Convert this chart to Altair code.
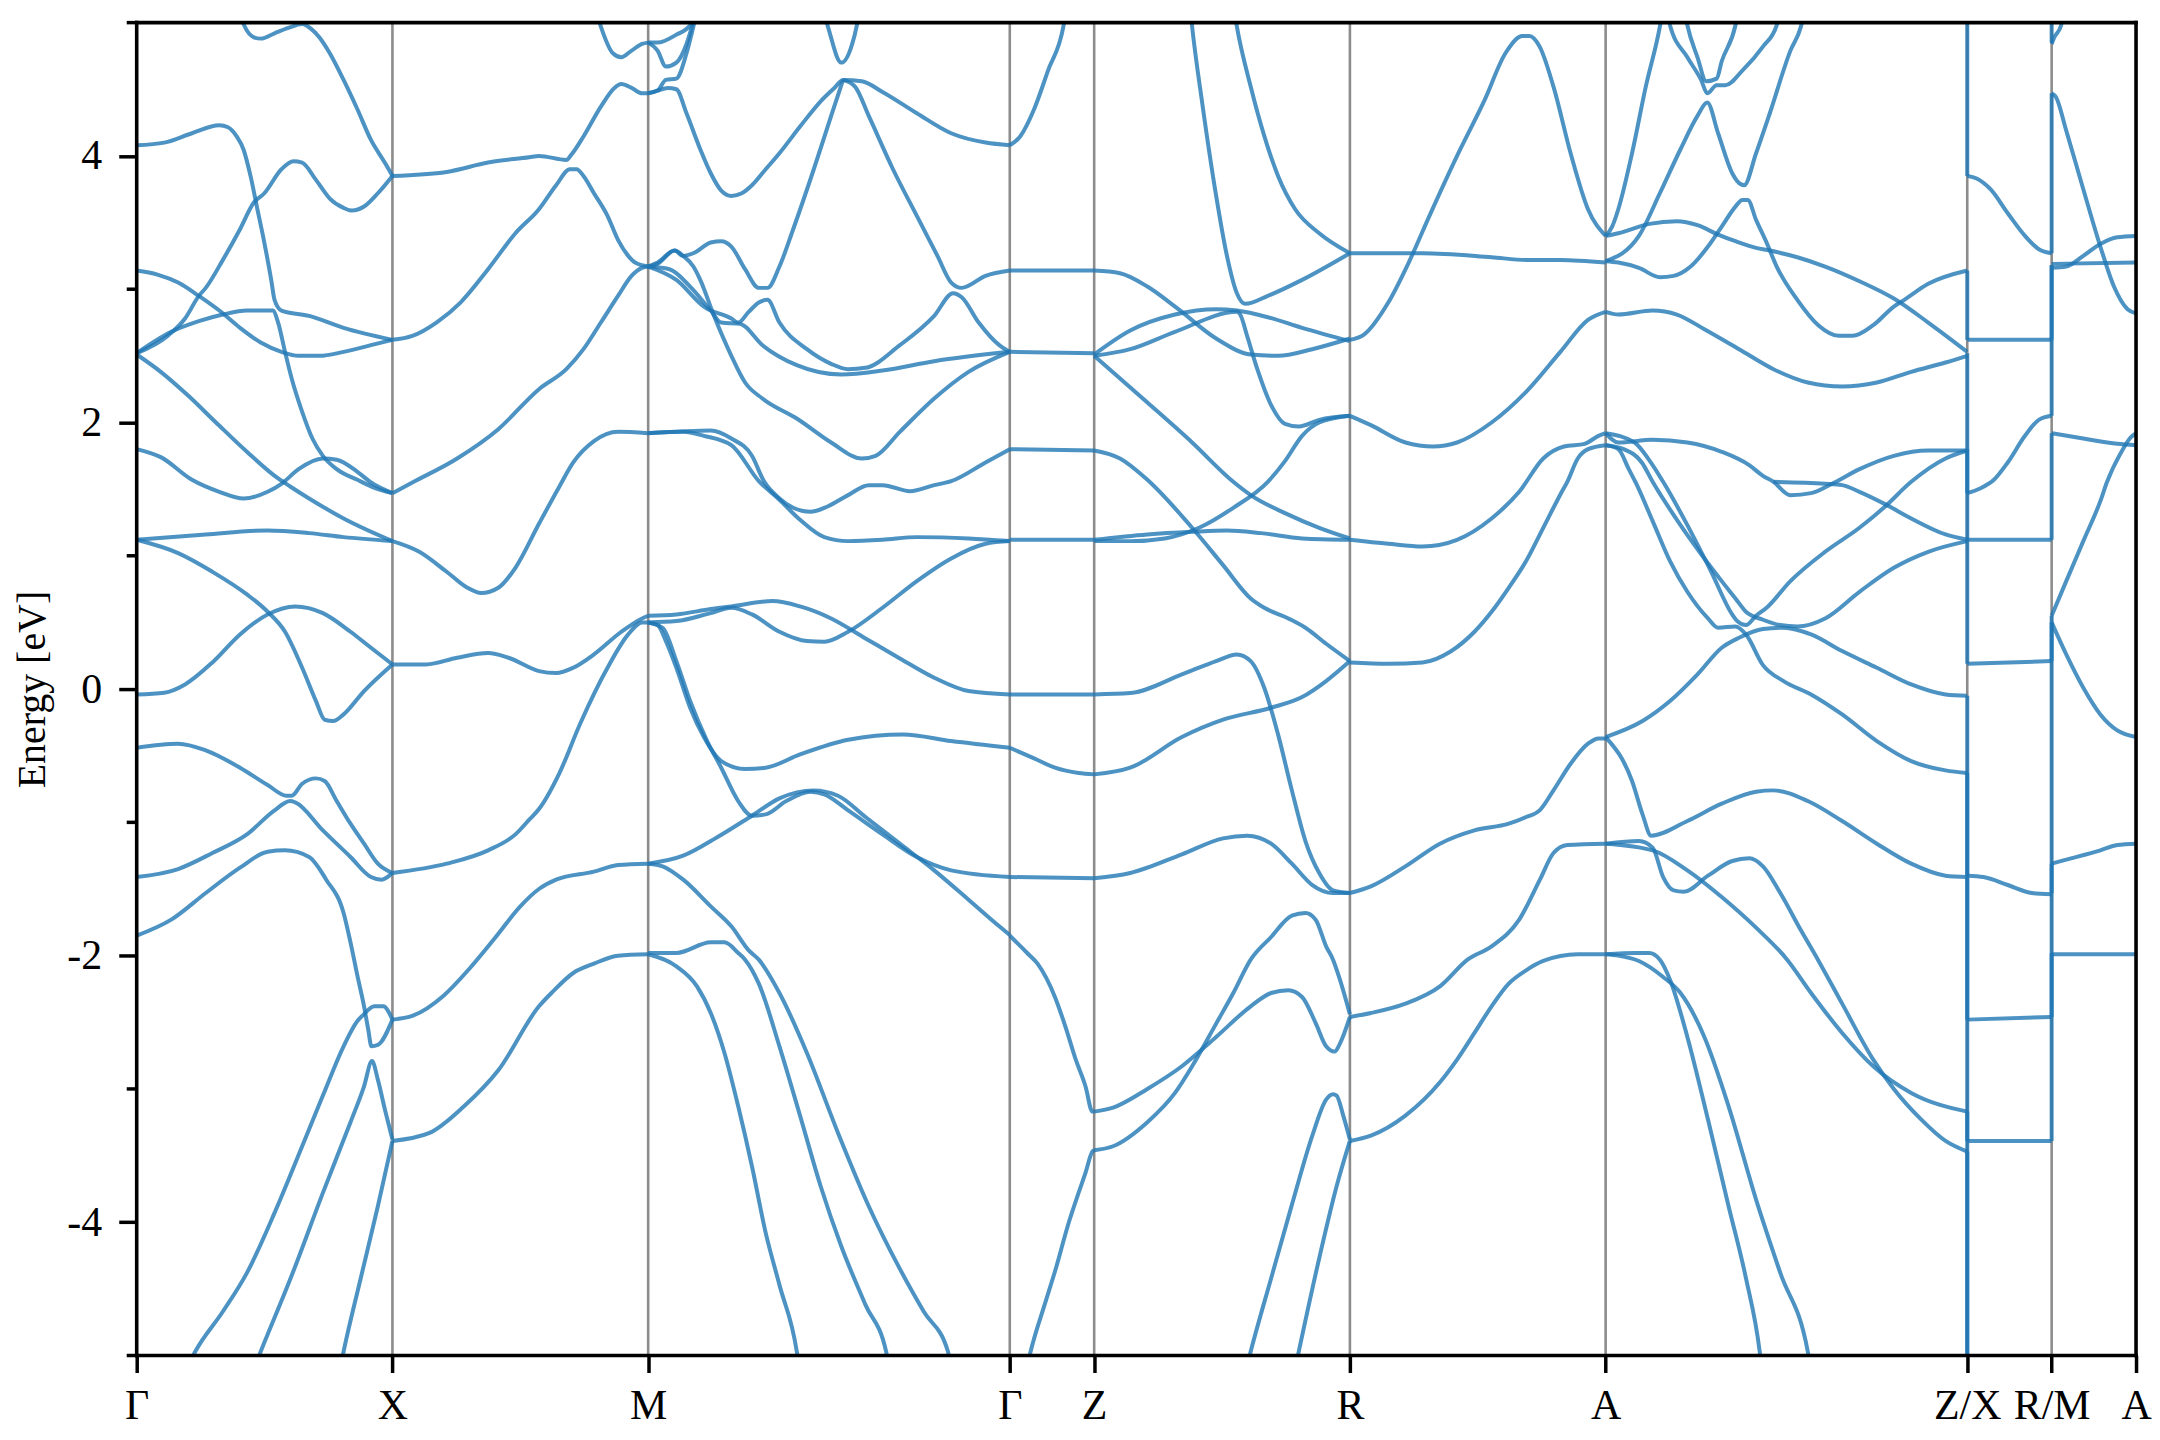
import altair as alt
import pandas as pd

# ---------------- k-path -----------------
LABELS = ["Γ", "X", "M", "Γ", "Z", "R", "A", "Z/X", "R/M", "A"]
SEG_LEN = [1.0, 1.0, 1.414, 0.33, 1.0, 1.0, 1.414, 0.33, 0.33]

# ---------------- bands: (fraction along segment, energy eV) -----------------
# Gamma - X
gx_top = [(0.404, 5.06), (0.42, 4.98), (0.458, 4.89), (0.485, 4.88), (0.539, 4.92), (0.593, 4.96), (0.647, 4.99), (0.681, 4.955), (0.714, 4.89), (0.755, 4.77), (0.809, 4.57), (0.863, 4.35), (0.916, 4.12), (0.970, 3.95), (1, 3.85)]
gx_b = [(0, 4.08), (0.108, 4.10), (0.216, 4.17), (0.323, 4.23), (0.357, 4.215), (0.391, 4.146), (0.418, 4.046), (0.445, 3.85), (0.472, 3.60), (0.499, 3.35), (0.526, 3.07), (0.539, 2.92), (0.566, 2.84), (0.674, 2.80), (0.809, 2.71), (1, 2.62)]
gx_n = [(0, 2.52), (0.135, 2.68), (0.243, 2.76), (0.337, 2.81), (0.431, 2.84), (0.532, 2.84), (0.553, 2.75), (0.580, 2.53), (0.606, 2.33), (0.647, 2.08), (0.687, 1.88), (0.728, 1.75), (0.782, 1.65), (0.863, 1.57), (0.930, 1.51), (1, 1.47)]
gx_c = [(0, 2.52), (0.121, 2.65), (0.189, 2.78), (0.243, 2.95), (0.270, 3.01), (0.337, 3.22), (0.404, 3.45), (0.458, 3.65), (0.499, 3.72), (0.566, 3.90), (0.613, 3.96), (0.647, 3.95), (0.701, 3.82), (0.755, 3.68), (0.809, 3.61), (0.842, 3.59), (0.889, 3.62), (0.943, 3.72), (1, 3.85)]
gx_d = [(0, 3.14), (0.081, 3.11), (0.162, 3.05), (0.243, 2.95), (0.323, 2.84), (0.404, 2.71), (0.485, 2.60), (0.566, 2.53), (0.633, 2.50), (0.714, 2.50), (0.809, 2.53), (0.916, 2.58), (1, 2.62)]
gx_e = [(0, 2.51), (0.094, 2.38), (0.202, 2.20), (0.310, 2.00), (0.431, 1.78), (0.553, 1.58), (0.600, 1.52), (0.674, 1.43), (0.809, 1.28), (1, 1.11)]
gx_m = [(0, 1.80), (0.094, 1.74), (0.216, 1.57), (0.323, 1.48), (0.418, 1.43), (0.512, 1.48), (0.566, 1.54), (0.633, 1.65), (0.728, 1.73), (0.782, 1.72), (0.863, 1.63), (0.916, 1.55), (1, 1.47)]
gx_f = [(0, 1.12), (0.27, 1.16), (0.512, 1.19), (0.674, 1.17), (0.809, 1.14), (1, 1.11)]
gx_g = [(0, 1.12), (0.162, 1.02), (0.296, 0.88), (0.431, 0.71), (0.512, 0.58), (0.580, 0.43), (0.647, 0.16), (0.701, -0.09), (0.735, -0.23), (0.768, -0.24), (0.809, -0.19), (0.889, -0.015), (1, 0.185)]
gx_h = [(0, -0.04), (0.108, -0.027), (0.189, 0.035), (0.296, 0.20), (0.404, 0.41), (0.512, 0.56), (0.620, 0.62), (0.728, 0.57), (0.836, 0.43), (0.916, 0.31), (1, 0.185)]
gx_i = [(0, -0.44), (0.162, -0.41), (0.270, -0.46), (0.404, -0.59), (0.512, -0.72), (0.586, -0.80), (0.606, -0.80), (0.647, -0.71), (0.701, -0.67), (0.735, -0.69), (0.782, -0.84), (0.836, -1.01), (0.889, -1.16), (0.943, -1.31), (1, -1.38)]
gx_j = [(0, -1.41), (0.162, -1.35), (0.296, -1.23), (0.431, -1.09), (0.539, -0.91), (0.600, -0.84), (0.620, -0.85), (0.728, -1.06), (0.836, -1.26), (0.916, -1.41), (0.957, -1.43), (1, -1.38)]
gx_k = [(0, -1.85), (0.135, -1.73), (0.270, -1.53), (0.404, -1.34), (0.512, -1.22), (0.580, -1.21), (0.674, -1.26), (0.741, -1.43), (0.809, -1.68), (0.836, -1.90), (0.863, -2.15), (0.889, -2.38), (0.905, -2.55), (0.918, -2.68), (0.943, -2.67), (1, -2.48)]
gx_l1 = [(0.195, -5.1), (0.229, -4.97), (0.337, -4.67), (0.431, -4.38), (0.539, -3.93), (0.647, -3.43), (0.728, -3.05), (0.809, -2.68), (0.863, -2.49), (0.883, -2.45), (0.930, -2.38), (0.964, -2.38), (1, -2.48)]
gx_l2 = [(0.458, -5.1), (0.485, -4.97), (0.606, -4.40), (0.728, -3.78), (0.836, -3.25), (0.889, -2.98), (0.920, -2.79), (0.943, -2.93), (0.970, -3.15), (1, -3.38)]
gx_l3 = [(0.795, -5.1), (0.809, -4.97), (0.876, -4.42), (0.943, -3.88), (1, -3.39)]

# X - M
xm_1 = [(0, 3.85), (0.212, 3.88), (0.374, 3.95), (0.535, 3.99), (0.573, 4.00), (0.680, 3.97), (0.700, 4.01), (0.747, 4.146), (0.815, 4.37), (0.868, 4.51), (0.895, 4.54), (0.935, 4.51), (0.976, 4.47), (1, 4.47)]
xm_2 = [(0, 2.62), (0.078, 2.65), (0.172, 2.75), (0.266, 2.90), (0.374, 3.15), (0.481, 3.42), (0.573, 3.60), (0.640, 3.78), (0.694, 3.90), (0.720, 3.90), (0.747, 3.85), (0.788, 3.72), (0.841, 3.55), (0.882, 3.37), (0.922, 3.25), (0.949, 3.20), (1, 3.17)]
xm_3 = [(0, 1.47), (0.078, 1.55), (0.253, 1.73), (0.414, 1.95), (0.573, 2.25), (0.680, 2.40), (0.747, 2.55), (0.815, 2.75), (0.882, 2.95), (0.935, 3.10), (0.976, 3.16), (1, 3.17)]
xm_4 = [(0, 1.11), (0.105, 1.03), (0.212, 0.88), (0.293, 0.76), (0.347, 0.72), (0.414, 0.76), (0.481, 0.91), (0.573, 1.24), (0.653, 1.52), (0.707, 1.70), (0.788, 1.86), (0.882, 1.93), (1, 1.92)]
xm_5 = [(0, 0.185), (0.132, 0.185), (0.253, 0.235), (0.374, 0.27), (0.454, 0.235), (0.573, 0.135), (0.640, 0.12), (0.707, 0.16), (0.788, 0.26), (0.895, 0.43), (0.976, 0.53), (1, 0.55)]
xm_6 = [(0, -1.38), (0.212, -1.31), (0.374, -1.21), (0.481, -1.09), (0.535, -0.98), (0.573, -0.90), (0.653, -0.63), (0.734, -0.26), (0.841, 0.16), (0.922, 0.41), (0.976, 0.50), (1, 0.50)]
xm_7 = [(0, -2.48), (0.08, -2.45), (0.2, -2.30), (0.3, -2.10), (0.4, -1.87), (0.5, -1.63), (0.573, -1.50), (0.640, -1.43), (0.788, -1.37), (0.882, -1.32), (1, -1.31)]
xm_8 = [(0, -3.39), (0.145, -3.33), (0.280, -3.13), (0.414, -2.86), (0.573, -2.38), (0.627, -2.27), (0.707, -2.13), (0.788, -2.06), (0.882, -2.00), (1, -1.99)]
xm_9 = [(0.80, 5.06), (0.815, 4.97), (0.862, 4.77), (0.895, 4.74), (0.935, 4.79), (0.976, 4.84), (1, 4.85)]

# M - Gamma
mg_q1 = [(0, 4.85), (0.026, 4.85), (0.078, 4.91), (0.116, 4.98), (0.13, 5.06)]
mg_q2 = [(0, 4.85), (0.026, 4.79), (0.049, 4.67), (0.078, 4.70), (0.106, 4.84), (0.121, 4.97), (0.13, 5.06)]
mg_q3 = [(0, 4.47), (0.026, 4.49), (0.049, 4.57), (0.078, 4.58), (0.106, 4.77), (0.125, 4.97), (0.133, 5.06)]
mg_q4 = [(0, 4.47), (0.026, 4.49), (0.054, 4.51), (0.078, 4.50), (0.106, 4.32), (0.144, 4.05), (0.173, 3.87), (0.202, 3.74), (0.230, 3.70), (0.259, 3.72), (0.287, 3.78), (0.325, 3.90), (0.363, 4.02), (0.420, 4.22), (0.477, 4.41), (0.515, 4.51), (0.539, 4.57), (0.591, 4.56), (0.648, 4.48), (0.743, 4.32), (0.838, 4.17), (0.933, 4.10), (1, 4.08)]
mg_v = [(0.487, 5.06), (0.496, 4.98), (0.534, 4.70), (0.563, 4.83), (0.577, 4.98), (0.582, 5.06)]
mg_j = [(0, 3.17), (0.026, 3.19), (0.073, 3.29), (0.097, 3.25), (0.125, 3.27), (0.173, 3.35), (0.202, 3.36), (0.230, 3.32), (0.268, 3.15), (0.306, 3.01), (0.330, 3.01), (0.363, 3.17), (0.401, 3.45), (0.458, 3.90), (0.506, 4.30), (0.539, 4.57)]
mg_i = [(0.539, 4.57), (0.572, 4.52), (0.610, 4.30), (0.677, 3.90), (0.743, 3.55), (0.800, 3.25), (0.838, 3.05), (0.867, 3.01), (0.933, 3.10), (1, 3.14)]
mg_lk = [(0, 3.17), (0.078, 3.07), (0.154, 2.87), (0.230, 2.78), (0.249, 2.75), (0.278, 2.83), (0.306, 2.90), (0.330, 2.92), (0.363, 2.75), (0.439, 2.55), (0.506, 2.44), (0.553, 2.40), (0.601, 2.41), (0.696, 2.58), (0.791, 2.80), (0.843, 2.97), (0.867, 2.94), (0.914, 2.75), (0.971, 2.58), (1, 2.53)]
mg_m = [(0, 3.17), (0.059, 3.15), (0.116, 3.02), (0.173, 2.84), (0.202, 2.75), (0.254, 2.74), (0.316, 2.58), (0.411, 2.43), (0.534, 2.36), (0.648, 2.39), (0.791, 2.46), (1, 2.53)]
mg_n = [(0, 3.17), (0.026, 3.20), (0.073, 3.29), (0.097, 3.25), (0.125, 3.17), (0.144, 3.07), (0.182, 2.80), (0.230, 2.50), (0.268, 2.30), (0.316, 2.18), (0.411, 2.03), (0.506, 1.85), (0.591, 1.73), (0.629, 1.75), (0.696, 1.93), (0.791, 2.18), (0.886, 2.38), (1, 2.53)]
mg_d1 = [(0, 1.92), (0.078, 1.93), (0.173, 1.94), (0.230, 1.88), (0.287, 1.75), (0.320, 1.56), (0.363, 1.43), (0.401, 1.36), (0.449, 1.33), (0.496, 1.37), (0.553, 1.455), (0.610, 1.53), (0.648, 1.53), (0.724, 1.485), (0.791, 1.53), (0.838, 1.56), (0.933, 1.70), (1, 1.80)]
mg_d2 = [(0, 1.92), (0.097, 1.93), (0.154, 1.90), (0.230, 1.83), (0.306, 1.56), (0.363, 1.42), (0.420, 1.27), (0.487, 1.14), (0.553, 1.11), (0.648, 1.12), (0.743, 1.14), (0.886, 1.13), (1, 1.11)]
mg_r1 = [(0, 0.55), (0.078, 0.56), (0.173, 0.60), (0.230, 0.62), (0.344, 0.66), (0.420, 0.62), (0.506, 0.53), (0.601, 0.38), (0.696, 0.23), (0.791, 0.085), (0.886, -0.015), (1, -0.04)]
mg_r2 = [(0, 0.50), (0.078, 0.51), (0.173, 0.57), (0.230, 0.61), (0.287, 0.56), (0.363, 0.43), (0.439, 0.36), (0.487, 0.355), (0.553, 0.43), (0.648, 0.61), (0.743, 0.81), (0.838, 0.98), (0.933, 1.09), (1, 1.11)]
mg_r3 = [(0, 0.50), (0.026, 0.48), (0.049, 0.36), (0.078, 0.16), (0.116, -0.14), (0.154, -0.36), (0.202, -0.54), (0.268, -0.60), (0.325, -0.59), (0.420, -0.49), (0.553, -0.38), (0.705, -0.34), (0.838, -0.39), (1, -0.44)]
mg_r4 = [(0, 0.50), (0.040, 0.46), (0.078, 0.21), (0.116, -0.09), (0.163, -0.39), (0.202, -0.59), (0.249, -0.84), (0.287, -0.95), (0.325, -0.94), (0.382, -0.84), (0.449, -0.77), (0.487, -0.79), (0.553, -0.91), (0.648, -1.09), (0.743, -1.26), (0.838, -1.36), (1, -1.41)]
mg_r5 = [(0, -1.31), (0.097, -1.25), (0.192, -1.11), (0.287, -0.95), (0.363, -0.82), (0.458, -0.76), (0.525, -0.80), (0.601, -0.96), (0.696, -1.16), (0.791, -1.36), (0.886, -1.58), (0.971, -1.78), (1, -1.845)]
mg_r6 = [(0, -1.31), (0.040, -1.33), (0.097, -1.43), (0.173, -1.63), (0.230, -1.78), (0.278, -1.96), (0.306, -2.03), (0.363, -2.28), (0.439, -2.73), (0.525, -3.33), (0.610, -3.88), (0.696, -4.35), (0.762, -4.67), (0.829, -4.97), (0.835, -5.06)]
mg_r7 = [(0, -1.98), (0.078, -1.98), (0.173, -1.90), (0.211, -1.90), (0.249, -1.98), (0.268, -2.03), (0.306, -2.21), (0.363, -2.68), (0.420, -3.20), (0.477, -3.73), (0.534, -4.18), (0.601, -4.62), (0.658, -4.97), (0.665, -5.06)]
mg_r8 = [(0, -1.99), (0.078, -2.08), (0.135, -2.23), (0.173, -2.43), (0.211, -2.73), (0.249, -3.13), (0.287, -3.58), (0.325, -4.08), (0.363, -4.47), (0.411, -4.97), (0.416, -5.06)]

# Gamma - Z
gz_1 = [(0, 4.08), (0.123, 4.146), (0.288, 4.35), (0.453, 4.64), (0.638, 4.98), (0.66, 5.06)]
gz_2 = [(0, 3.14), (1, 3.14)]
gz_3 = [(0, 2.53), (1, 2.52)]
gz_4 = [(0, 1.80), (1, 1.79)]
gz_5 = [(0, 1.12), (1, 1.12)]
gz_6 = [(0, -0.04), (1, -0.04)]
gz_7 = [(0, -0.44), (0.288, -0.52), (0.535, -0.59), (0.815, -0.63), (1, -0.64)]
gz_8 = [(0, -1.41), (1, -1.42)]
gz_9 = [(0, -1.85), (0.206, -1.98), (0.329, -2.06), (0.535, -2.31), (0.658, -2.53), (0.782, -2.78), (0.897, -2.98), (0.979, -3.17), (1, -3.17)]
gz_10 = [(0.2, -5.1), (0.247, -4.97), (0.412, -4.62), (0.535, -4.37), (0.700, -4.0), (0.815, -3.78), (0.897, -3.63), (0.979, -3.47), (1, -3.46)]

# Z - R
zr_1 = [(0.378, 5.06), (0.383, 4.97), (0.423, 4.39), (0.477, 3.70), (0.517, 3.27), (0.558, 2.97), (0.591, 2.89), (0.679, 2.95), (0.813, 3.07), (1, 3.27)]
zr_2 = [(0.55, 5.06), (0.558, 4.97), (0.612, 4.52), (0.665, 4.15), (0.719, 3.85), (0.786, 3.60), (0.880, 3.42), (1, 3.27)]
zr_3 = [(0, 2.51), (0.141, 2.69), (0.316, 2.81), (0.477, 2.85), (0.558, 2.84), (0.679, 2.79), (0.813, 2.71), (1, 2.61)]
zr_4 = [(0, 2.50), (0.141, 2.55), (0.316, 2.68), (0.558, 2.83), (0.571, 2.81), (0.598, 2.65), (0.638, 2.40), (0.692, 2.13), (0.746, 1.99), (0.800, 1.97), (0.880, 2.02), (1, 2.05)]
zr_5 = [(0, 3.14), (0.101, 3.12), (0.208, 3.02), (0.329, 2.85), (0.477, 2.63), (0.612, 2.51), (0.719, 2.50), (0.853, 2.55), (1, 2.63)]
zr_6 = [(0, 1.79), (0.101, 1.73), (0.208, 1.57), (0.383, 1.21), (0.504, 0.93), (0.612, 0.68), (0.665, 0.61), (0.759, 0.53), (0.826, 0.46), (0.907, 0.34), (1, 0.21)]
zr_7 = [(0, 1.12), (0.208, 1.16), (0.383, 1.18), (0.518, 1.19), (0.652, 1.17), (0.813, 1.13), (1, 1.12)]
zr_8 = [(0, 1.11), (0.141, 1.11), (0.276, 1.13), (0.410, 1.21), (0.544, 1.36), (0.679, 1.555), (0.746, 1.71), (0.813, 1.90), (0.880, 2.00), (1, 2.05)]
zr_9 = [(0, 2.50), (0.208, 2.15), (0.383, 1.85), (0.544, 1.555), (0.612, 1.455), (0.746, 1.32), (0.880, 1.21), (1, 1.13)]
zr_10 = [(0, -0.04), (0.141, -0.03), (0.343, 0.11), (0.477, 0.21), (0.558, 0.26), (0.612, 0.21), (0.665, 0.01), (0.719, -0.34), (0.773, -0.76), (0.826, -1.14), (0.880, -1.38), (0.934, -1.51), (1, -1.53)]
zr_11 = [(0, -0.64), (0.141, -0.59), (0.343, -0.36), (0.504, -0.23), (0.692, -0.14), (0.813, -0.06), (0.907, 0.06), (1, 0.21)]
zr_12 = [(0, -1.42), (0.141, -1.38), (0.343, -1.24), (0.504, -1.12), (0.598, -1.10), (0.692, -1.16), (0.773, -1.31), (0.853, -1.47), (0.934, -1.53), (1, -1.53)]
zr_13 = [(0, -3.17), (0.074, -3.14), (0.208, -3.0), (0.343, -2.83), (0.477, -2.61), (0.612, -2.38), (0.692, -2.28), (0.759, -2.26), (0.813, -2.31), (0.867, -2.51), (0.907, -2.68), (0.940, -2.72), (0.961, -2.66), (1, -2.46)]
zr_14 = [(0, -3.46), (0.074, -3.43), (0.208, -3.25), (0.316, -3.03), (0.383, -2.83), (0.477, -2.51), (0.544, -2.28), (0.612, -2.03), (0.692, -1.86), (0.773, -1.70), (0.826, -1.68), (0.866, -1.73), (0.907, -1.93), (0.934, -2.03), (0.961, -2.18), (1, -2.44)]
zr_15 = [(0.6, -5.06), (0.612, -4.97), (0.692, -4.42), (0.773, -3.87), (0.853, -3.35), (0.907, -3.08), (0.934, -3.04), (0.948, -3.05), (0.974, -3.20), (1, -3.38)]
zr_16 = [(0.79, -5.06), (0.800, -4.97), (0.880, -4.27), (0.948, -3.73), (1, -3.39)]

# R - A
ra_1 = [(0, 3.27), (0.284, 3.27), (0.554, 3.24), (0.689, 3.22), (0.823, 3.22), (1, 3.20)]
ra_2 = [(0, 2.62), (0.055, 2.66), (0.150, 2.90), (0.230, 3.20), (0.311, 3.55), (0.419, 4.0), (0.527, 4.42), (0.608, 4.77), (0.675, 4.90), (0.702, 4.90), (0.742, 4.82), (0.796, 4.52), (0.863, 4.02), (0.931, 3.60), (1, 3.40)]
ra_3 = [(0, 2.05), (0.082, 1.98), (0.217, 1.85), (0.325, 1.82), (0.419, 1.85), (0.554, 2.00), (0.689, 2.23), (0.823, 2.53), (0.931, 2.77), (1, 2.83)]
ra_4 = [(0, 1.12), (0.150, 1.09), (0.284, 1.07), (0.419, 1.12), (0.554, 1.28), (0.662, 1.48), (0.756, 1.73), (0.837, 1.82), (0.918, 1.84), (0.972, 1.90), (1, 1.92)]
ra_5 = [(0, 0.20), (0.150, 0.19), (0.284, 0.20), (0.392, 0.28), (0.487, 0.43), (0.554, 0.58), (0.621, 0.76), (0.689, 0.96), (0.756, 1.21), (0.823, 1.46), (0.850, 1.555), (0.891, 1.73), (0.931, 1.80), (1, 1.83)]
ra_6 = [(0, -1.53), (0.082, -1.48), (0.217, -1.33), (0.352, -1.16), (0.487, -1.06), (0.621, -1.01), (0.689, -0.96), (0.742, -0.91), (0.796, -0.76), (0.863, -0.56), (0.931, -0.41), (0.972, -0.37), (1, -0.37)]
ra_7 = [(0, -2.46), (0.082, -2.43), (0.217, -2.36), (0.352, -2.23), (0.460, -2.03), (0.554, -1.93), (0.662, -1.73), (0.743, -1.43), (0.796, -1.23), (0.850, -1.17), (1, -1.16)]
ra_8 = [(0, -3.39), (0.082, -3.35), (0.217, -3.20), (0.352, -2.95), (0.419, -2.78), (0.487, -2.58), (0.554, -2.38), (0.621, -2.21), (0.689, -2.11), (0.756, -2.04), (0.891, -1.99), (1, -1.99)]

# A - Z
az_1 = [(0, 3.40), (0.018, 3.47), (0.035, 3.60), (0.073, 4.02), (0.111, 4.52), (0.150, 4.97), (0.156, 5.06)]
az_2 = [(0, 3.40), (0.035, 3.42), (0.121, 3.49), (0.197, 3.51), (0.254, 3.48), (0.311, 3.41), (0.359, 3.36), (0.416, 3.31), (0.454, 3.29), (0.530, 3.24), (0.607, 3.17), (0.702, 3.06), (0.797, 2.93), (0.892, 2.75), (1, 2.53)]
az_3 = [(0, 3.21), (0.035, 3.20), (0.092, 3.16), (0.150, 3.09), (0.188, 3.10), (0.235, 3.17), (0.283, 3.32), (0.321, 3.47), (0.359, 3.62), (0.378, 3.67), (0.393, 3.67), (0.416, 3.52), (0.445, 3.35), (0.473, 3.17), (0.530, 2.92), (0.588, 2.73), (0.645, 2.65), (0.683, 2.65), (0.740, 2.73), (0.797, 2.87), (0.826, 2.92), (0.892, 3.04), (1, 3.14)]
az_4 = [(0, 3.21), (0.092, 3.40), (0.150, 3.72), (0.207, 4.05), (0.254, 4.30), (0.281, 4.40), (0.311, 4.17), (0.350, 3.87), (0.364, 3.81), (0.383, 3.78), (0.416, 4.02), (0.454, 4.32), (0.511, 4.79), (0.540, 4.97), (0.548, 5.06)]
az_5 = [(0.172, 5.06), (0.178, 4.98), (0.226, 4.74), (0.264, 4.57), (0.281, 4.47), (0.307, 4.53), (0.331, 4.53), (0.378, 4.64), (0.435, 4.82), (0.473, 4.98), (0.48, 5.06)]
az_6 = [(0.22, 5.06), (0.226, 4.98), (0.254, 4.74), (0.278, 4.56), (0.307, 4.58), (0.321, 4.71), (0.359, 4.98), (0.365, 5.06)]
az_7 = [(0, 2.83), (0.035, 2.81), (0.130, 2.84), (0.197, 2.81), (0.273, 2.70), (0.369, 2.55), (0.464, 2.40), (0.559, 2.30), (0.654, 2.27), (0.750, 2.30), (0.845, 2.38), (0.940, 2.45), (1, 2.50)]
az_8 = [(0, 1.83), (0.035, 1.80), (0.064, 1.65), (0.083, 1.55), (0.130, 1.26), (0.178, 0.96), (0.226, 0.73), (0.283, 0.53), (0.311, 0.46), (0.359, 0.47), (0.388, 0.41), (0.435, 0.18), (0.492, 0.06), (0.568, -0.04), (0.654, -0.19), (0.750, -0.39), (0.845, -0.54), (0.940, -0.61), (1, -0.63)]
az_9 = [(0, 1.83), (0.05, 1.80), (0.10, 1.70), (0.130, 1.555), (0.207, 1.23), (0.273, 0.98), (0.321, 0.81), (0.359, 0.68), (0.388, 0.58), (0.435, 0.52), (0.483, 0.48), (0.530, 0.47), (0.607, 0.53), (0.702, 0.73), (0.797, 0.91), (0.892, 1.03), (1, 1.11)]
az_10 = [(0, 1.92), (0.08, 1.85), (0.12, 1.72), (0.159, 1.555), (0.226, 1.23), (0.292, 0.88), (0.350, 0.56), (0.364, 0.51), (0.388, 0.48), (0.416, 0.55), (0.445, 0.61), (0.511, 0.81), (0.607, 1.03), (0.702, 1.21), (0.769, 1.36), (0.845, 1.555), (0.940, 1.73), (1, 1.79)]
az_11 = [(0, 1.92), (0.035, 1.85), (0.130, 1.87), (0.226, 1.85), (0.321, 1.78), (0.397, 1.68), (0.435, 1.60), (0.464, 1.555), (0.511, 1.455), (0.568, 1.47), (0.626, 1.54), (0.702, 1.65), (0.797, 1.75), (0.892, 1.79), (1, 1.79)]
az_12 = [(0.464, 1.555), (0.607, 1.54), (0.654, 1.53), (0.702, 1.48), (0.778, 1.38), (0.845, 1.28), (0.940, 1.16), (1, 1.12)]
az_13 = [(0, -0.36), (0.102, -0.24), (0.178, -0.09), (0.254, 0.11), (0.321, 0.31), (0.369, 0.385), (0.435, 0.45), (0.492, 0.46), (0.568, 0.41), (0.654, 0.285), (0.750, 0.16), (0.845, 0.035), (0.940, -0.04), (1, -0.05)]
az_14 = [(0, -0.36), (0.073, -0.69), (0.102, -0.94), (0.126, -1.10), (0.226, -0.99), (0.321, -0.86), (0.416, -0.77), (0.464, -0.76), (0.559, -0.84), (0.654, -0.99), (0.750, -1.16), (0.845, -1.31), (0.940, -1.40), (1, -1.41)]
az_15 = [(0, -1.16), (0.092, -1.14), (0.130, -1.19), (0.159, -1.41), (0.188, -1.51), (0.216, -1.52), (0.283, -1.40), (0.350, -1.29), (0.397, -1.27), (0.435, -1.33), (0.483, -1.53), (0.540, -1.81), (0.587, -2.03), (0.654, -2.36), (0.740, -2.78), (0.797, -3.0), (0.873, -3.23), (0.940, -3.39), (1, -3.47)]
az_16 = [(0, -1.16), (0.130, -1.21), (0.226, -1.36), (0.321, -1.56), (0.416, -1.79), (0.502, -2.03), (0.568, -2.28), (0.654, -2.58), (0.740, -2.83), (0.845, -3.03), (1, -3.17)]
az_17 = [(0, -1.99), (0.035, -2.0), (0.092, -2.04), (0.159, -2.16), (0.207, -2.28), (0.273, -2.61), (0.340, -3.13), (0.416, -3.83), (0.483, -4.38), (0.559, -4.97), (0.565, -5.06)]
az_18 = [(0, -1.99), (0.083, -1.98), (0.120, -1.98), (0.150, -2.03), (0.178, -2.18), (0.226, -2.61), (0.283, -3.23), (0.340, -3.88), (0.388, -4.42), (0.426, -4.97), (0.43, -5.06)]

# X - R
xr_1 = [(0, 3.85), (0.111, 3.83), (0.275, 3.75), (0.480, 3.57), (0.684, 3.40), (0.848, 3.30), (1, 3.27)]
xr_2 = [(0, 2.62), (1, 2.62)]
xr_3 = [(0, 1.47), (0.152, 1.505), (0.316, 1.57), (0.480, 1.70), (0.684, 1.90), (0.848, 2.02), (1, 2.05)]
xr_4 = [(0, 1.12), (1, 1.12)]
xr_5 = [(0, 0.19), (1, 0.21)]
xr_6 = [(0, -1.40), (0.193, -1.41), (0.480, -1.47), (0.766, -1.53), (1, -1.54)]
xr_7 = [(0, -2.48), (1, -2.46)]
xr_8 = [(0, -3.39), (1, -3.39)]

# M - A
ma_1 = [(0, 4.84), (0.032, 4.89), (0.113, 4.98), (0.13, 5.06)]
ma_2 = [(0, 4.47), (0.052, 4.44), (0.173, 4.19), (0.375, 3.75), (0.577, 3.32), (0.738, 3.02), (0.899, 2.85), (1, 2.82)]
ma_3 = [(0, 3.16), (0.173, 3.17), (0.375, 3.25), (0.577, 3.34), (0.778, 3.39), (1, 3.40)]
ma_4 = [(0, 3.19), (1, 3.20)]
ma_5 = [(0, 1.92), (0.375, 1.88), (0.778, 1.84), (1, 1.83)]
ma_6 = [(0, 0.55), (0.173, 0.81), (0.375, 1.11), (0.577, 1.41), (0.657, 1.555), (0.818, 1.77), (0.940, 1.89), (1, 1.92)]
ma_7 = [(0, 0.50), (0.173, 0.26), (0.375, 0.01), (0.577, -0.19), (0.778, -0.31), (1, -0.36)]
ma_8 = [(0, -1.31), (0.173, -1.28), (0.577, -1.21), (0.778, -1.17), (1, -1.16)]
ma_9 = [(0, -1.99), (1, -1.99)]

# band jumps at the path breaks: (energy before, energy after)
JUMP_ZX = [(5.1, 3.85), (3.14, 2.62), (2.52, 1.47), (1.80, 1.12), (1.12, 0.19), (-0.05, -1.40), (-0.63, -2.48), (-1.42, -3.39), (-3.17, -5.1), (-3.47, -5.1)]
JUMP_RM = [(5.1, 4.85), (3.27, 4.47), (2.62, 3.18), (2.05, 3.18), (1.12, 1.92), (0.21, 0.55), (-1.53, 0.50), (-2.46, -1.31), (-3.39, -1.98)]

Y_MAJOR = [-4, -2, 0, 2, 4]
Y_MINOR = [-5, -3, -1, 1, 3, 5]

SEGMENTS = [
    [gx_top, gx_b, gx_n, gx_c, gx_d, gx_e, gx_m, gx_f, gx_g, gx_h, gx_i, gx_j, gx_k, gx_l1, gx_l2, gx_l3],
    [xm_1, xm_2, xm_3, xm_4, xm_5, xm_6, xm_7, xm_8, xm_9],
    [mg_q1, mg_q2, mg_q3, mg_q4, mg_v, mg_j, mg_i, mg_lk, mg_m, mg_n, mg_d1, mg_d2, mg_r1, mg_r2, mg_r3, mg_r4, mg_r5, mg_r6, mg_r7, mg_r8],
    [gz_1, gz_2, gz_3, gz_4, gz_5, gz_6, gz_7, gz_8, gz_9, gz_10],
    [zr_1, zr_2, zr_3, zr_4, zr_5, zr_6, zr_7, zr_8, zr_9, zr_10, zr_11, zr_12, zr_13, zr_14, zr_15, zr_16],
    [ra_1, ra_2, ra_3, ra_4, ra_5, ra_6, ra_7, ra_8],
    [az_1, az_2, az_3, az_4, az_5, az_6, az_7, az_8, az_9, az_10, az_11, az_12, az_13, az_14, az_15, az_16, az_17, az_18],
    [xr_1, xr_2, xr_3, xr_4, xr_5, xr_6, xr_7, xr_8],
    [ma_1, ma_2, ma_3, ma_4, ma_5, ma_6, ma_7, ma_8, ma_9],
]
JUMPS = {7: JUMP_ZX, 8: JUMP_RM}

# ---------------- build tables -----------------
nodes = [0.0]
for L in SEG_LEN:
    nodes.append(nodes[-1] + L)
total = nodes[-1]

rows = []
bid = 0
for s, bands in enumerate(SEGMENTS):
    for band in bands:
        for o, (t, e) in enumerate(band):
            rows.append({"band": bid, "k": nodes[s] + t * SEG_LEN[s], "E": e, "o": o})
        bid += 1
df = pd.DataFrame(rows)

jrows = []
for node, pairs in JUMPS.items():
    for e1, e2 in pairs:
        jrows.append({"band": bid, "k": nodes[node], "E": e1, "o": 0})
        jrows.append({"band": bid, "k": nodes[node], "E": e2, "o": 1})
        bid += 1
df_j = pd.DataFrame(jrows)

df_v = pd.DataFrame({"k": nodes[1:-1]})
df_minor = pd.DataFrame({"E": Y_MINOR})
df_fh = pd.DataFrame({"E": [-5, 5]})
df_fv = pd.DataFrame({"k": [0.0, total]})

mids = [(nodes[i] + nodes[i + 1]) / 2 for i in range(len(nodes) - 1)]
label_expr = ""
for m, lab in zip(mids, LABELS[:-1]):
    label_expr += f"datum.value < {m:.5f} ? '{lab}' : "
label_expr += f"'{LABELS[-1]}'"

FONT = "Liberation Serif"
W, H = 2004, 1336

x_scale = alt.Scale(domain=[0, total], nice=False, zero=False)
y_scale = alt.Scale(domain=[-5, 5], nice=False, zero=False)
x_axis = alt.Axis(values=nodes, labelExpr=label_expr, grid=False, domain=False,
                  tickSize=17, tickWidth=3.5, tickColor="black",
                  labelFont=FONT, labelFontSize=42, labelColor="black",
                  labelPadding=13, labelOverlap=False, labelFlush=False)
y_axis = alt.Axis(values=Y_MAJOR, labelExpr="'' + datum.value", grid=False, domain=False,
                  tickSize=18, tickWidth=3.5, tickColor="black",
                  labelFont=FONT, labelFontSize=42, labelColor="black",
                  labelPadding=17, labelFlush=False,
                  titleFont=FONT, titleFontSize=40, titleFontWeight="normal",
                  titleColor="black", titleX=-92, titleY=H / 2,
                  titleBaseline="alphabetic", titleAngle=270)

X = lambda: alt.X("k:Q", scale=x_scale, axis=x_axis, title=None)
Y = lambda: alt.Y("E:Q", scale=y_scale, axis=y_axis, title="Energy [eV]")

vlines = alt.Chart(df_v).mark_rule(color="#8c8c8c", strokeWidth=2.6).encode(x=X())

bands = alt.Chart(df).mark_line(
    color="#1f77b4", opacity=0.8, strokeWidth=4, clip=True,
    strokeJoin="round", interpolate="monotone"
).encode(x=X(), y=Y(), detail="band:N", order="o:Q")

jumps = alt.Chart(df_j).mark_line(
    color="#1f77b4", opacity=0.8, strokeWidth=4, clip=True
).encode(x=X(), y=Y(), detail="band:N", order="o:Q")

minor = alt.Chart(df_minor).mark_rule(color="black", strokeWidth=3.5).encode(
    y=Y(), x=alt.value(-10), x2=alt.value(0)
)
frame_h = alt.Chart(df_fh).mark_rule(color="black", strokeWidth=3.6, strokeCap="square").encode(y=Y())
frame_v = alt.Chart(df_fv).mark_rule(color="black", strokeWidth=3.6, strokeCap="square").encode(x=X())

chart = alt.layer(vlines, bands, jumps, minor, frame_h, frame_v).properties(
    width=W, height=H,
    padding={"left": 129, "top": 13, "right": 16, "bottom": 75},
    autosize=alt.AutoSizeParams(type="none"),
).configure_view(stroke=None)

chart.save("out.html", embed_options={"renderer": "svg", "actions": False})
